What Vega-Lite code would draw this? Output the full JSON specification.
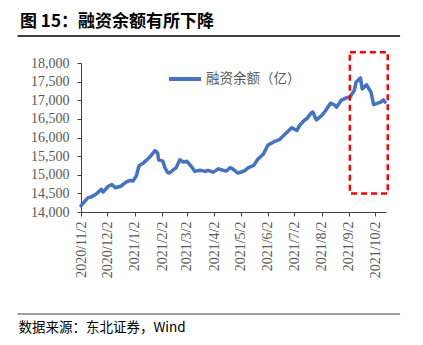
{
  "$schema": "https://vega.github.io/schema/vega-lite/v6.json",
  "autosize": "none",
  "width": 305,
  "height": 149,
  "padding": {"left": 81, "top": 63, "right": 37, "bottom": 133},
  "background": "white",
  "title": {
    "text": "图 15：融资余额有所下降",
    "anchor": "start",
    "frame": "group",
    "dx": -61,
    "offset": 4,
    "font": "Noto Sans CJK SC",
    "fontSize": 17,
    "fontWeight": "bold",
    "color": "#000000"
  },
  "config": {
    "view": {"stroke": null},
    "axis": {"grid": false}
  },
  "resolve": {"axis": {"x": "independent", "y": "independent"}},
  "layer": [
    {
      "data": {"values": [
        {"date": "2020/11/02", "value": 14170},
        {"date": "2020/11/10", "value": 14385},
        {"date": "2020/11/13", "value": 14400},
        {"date": "2020/11/19", "value": 14475},
        {"date": "2020/11/25", "value": 14610},
        {"date": "2020/11/27", "value": 14535},
        {"date": "2020/12/03", "value": 14690},
        {"date": "2020/12/07", "value": 14740},
        {"date": "2020/12/11", "value": 14650},
        {"date": "2020/12/17", "value": 14690},
        {"date": "2020/12/23", "value": 14800},
        {"date": "2020/12/28", "value": 14850},
        {"date": "2020/12/31", "value": 14830},
        {"date": "2021/01/04", "value": 14985},
        {"date": "2021/01/07", "value": 15250},
        {"date": "2021/01/11", "value": 15300},
        {"date": "2021/01/15", "value": 15385},
        {"date": "2021/01/19", "value": 15475},
        {"date": "2021/01/25", "value": 15650},
        {"date": "2021/01/28", "value": 15580},
        {"date": "2021/01/29", "value": 15400},
        {"date": "2021/02/03", "value": 15365},
        {"date": "2021/02/05", "value": 15200},
        {"date": "2021/02/08", "value": 15070},
        {"date": "2021/02/10", "value": 15045},
        {"date": "2021/02/18", "value": 15190},
        {"date": "2021/02/22", "value": 15400},
        {"date": "2021/02/26", "value": 15340},
        {"date": "2021/03/02", "value": 15365},
        {"date": "2021/03/08", "value": 15200},
        {"date": "2021/03/11", "value": 15090},
        {"date": "2021/03/17", "value": 15120},
        {"date": "2021/03/23", "value": 15090},
        {"date": "2021/03/26", "value": 15120},
        {"date": "2021/04/01", "value": 15070},
        {"date": "2021/04/07", "value": 15160},
        {"date": "2021/04/12", "value": 15120},
        {"date": "2021/04/16", "value": 15100},
        {"date": "2021/04/20", "value": 15190},
        {"date": "2021/04/23", "value": 15160},
        {"date": "2021/04/29", "value": 15045},
        {"date": "2021/05/06", "value": 15100},
        {"date": "2021/05/11", "value": 15190},
        {"date": "2021/05/17", "value": 15250},
        {"date": "2021/05/21", "value": 15400},
        {"date": "2021/05/28", "value": 15560},
        {"date": "2021/06/02", "value": 15790},
        {"date": "2021/06/08", "value": 15875},
        {"date": "2021/06/15", "value": 15940},
        {"date": "2021/06/18", "value": 16010},
        {"date": "2021/06/24", "value": 16145},
        {"date": "2021/06/29", "value": 16260},
        {"date": "2021/07/05", "value": 16190},
        {"date": "2021/07/08", "value": 16325},
        {"date": "2021/07/14", "value": 16475},
        {"date": "2021/07/16", "value": 16500},
        {"date": "2021/07/21", "value": 16655},
        {"date": "2021/07/23", "value": 16680},
        {"date": "2021/07/27", "value": 16475},
        {"date": "2021/08/02", "value": 16590},
        {"date": "2021/08/06", "value": 16705},
        {"date": "2021/08/12", "value": 16920},
        {"date": "2021/08/16", "value": 16885},
        {"date": "2021/08/19", "value": 16815},
        {"date": "2021/08/24", "value": 16995},
        {"date": "2021/08/30", "value": 17065},
        {"date": "2021/09/03", "value": 17080},
        {"date": "2021/09/08", "value": 17260},
        {"date": "2021/09/10", "value": 17485},
        {"date": "2021/09/15", "value": 17600},
        {"date": "2021/09/17", "value": 17305},
        {"date": "2021/09/22", "value": 17415},
        {"date": "2021/09/27", "value": 17215},
        {"date": "2021/09/30", "value": 16880},
        {"date": "2021/10/08", "value": 16950},
        {"date": "2021/10/11", "value": 17010},
        {"date": "2021/10/13", "value": 16950}
      ]},
      "mark": {"type": "line", "strokeWidth": 3.5, "strokeJoin": "round", "strokeCap": "round"},
      "encoding": {
        "x": {
          "field": "date",
          "type": "temporal",
          "scale": {"domain": [{"year": 2020, "month": 11, "date": 2}, {"year": 2021, "month": 10, "date": 14}]},
          "axis": {
            "values": [
              {"year": 2020, "month": 11, "date": 2},
              {"year": 2020, "month": 12, "date": 2},
              {"year": 2021, "month": 1, "date": 2},
              {"year": 2021, "month": 2, "date": 2},
              {"year": 2021, "month": 3, "date": 2},
              {"year": 2021, "month": 4, "date": 2},
              {"year": 2021, "month": 5, "date": 2},
              {"year": 2021, "month": 6, "date": 2},
              {"year": 2021, "month": 7, "date": 2},
              {"year": 2021, "month": 8, "date": 2},
              {"year": 2021, "month": 9, "date": 2},
              {"year": 2021, "month": 10, "date": 2}
            ],
            "format": "%Y/%-m/%-d",
            "labelAngle": 270,
            "labelAlign": "right",
            "labelBaseline": "middle",
            "labelFont": "Liberation Serif",
            "labelFontSize": 14,
            "labelColor": "#595959",
            "labelPadding": 5,
            "labelOverlap": false,
            "labelFlush": false,
            "tickSize": 4,
            "tickColor": "#404040",
            "domainColor": "#404040",
            "title": "数据来源：东北证券，Wind",
            "titleFont": "Noto Sans CJK SC",
            "titleFontSize": 13.5,
            "titleFontWeight": "normal",
            "titleColor": "#000000",
            "titleAlign": "left",
            "titleAnchor": "start",
            "titleBaseline": "middle",
            "titleX": -63,
            "titleY": 115
          }
        },
        "y": {
          "field": "value",
          "type": "quantitative",
          "scale": {"domain": [14000, 18000], "nice": false, "zero": false},
          "axis": {
            "values": [14000, 14500, 15000, 15500, 16000, 16500, 17000, 17500, 18000],
            "format": ",.0f",
            "labelFont": "Liberation Serif",
            "labelFontSize": 14,
            "labelColor": "#595959",
            "labelPadding": 8,
            "labelOverlap": false,
            "tickSize": 4,
            "tickColor": "#404040",
            "domainColor": "#404040",
            "title": null
          }
        },
        "color": {
          "datum": "融资余额（亿）",
          "scale": {"range": ["#4472C4"]},
          "legend": {
            "orient": "none",
            "legendX": 86,
            "legendY": -2,
            "title": null,
            "symbolType": "stroke",
            "symbolSize": 1024,
            "symbolStrokeWidth": 4,
            "labelFont": "Noto Sans CJK SC",
            "labelFontSize": 13.5,
            "labelColor": "#595959",
            "labelOffset": 3
          }
        }
      }
    },
    {
      "data": {"values": [{"start": "2021/09/03", "end": "2021/10/16", "low": 14495, "high": 18290}]},
      "mark": {"type": "rect", "fill": null, "stroke": "#FF0000", "strokeWidth": 2.5, "strokeDash": [6, 4], "clip": false},
      "encoding": {
        "x": {"field": "start", "type": "temporal", "axis": null},
        "x2": {"field": "end"},
        "y": {"field": "low", "type": "quantitative", "axis": null},
        "y2": {"field": "high"}
      }
    },
    {
      "data": {"values": [
        {"from": "2020/08/22", "to": "2021/10/30", "level": 18725, "kind": "header"},
        {"from": "2020/08/22", "to": "2021/10/30", "level": 11261, "kind": "footer"}
      ]},
      "mark": {"type": "rule", "strokeWidth": 1.5, "clip": false},
      "encoding": {
        "x": {"field": "from", "type": "temporal", "axis": null},
        "x2": {"field": "to"},
        "y": {"field": "level", "type": "quantitative", "axis": null},
        "stroke": {
          "field": "kind",
          "type": "nominal",
          "scale": {"domain": ["header", "footer"], "range": ["#000000", "#808080"]},
          "legend": null
        }
      }
    }
  ]
}
